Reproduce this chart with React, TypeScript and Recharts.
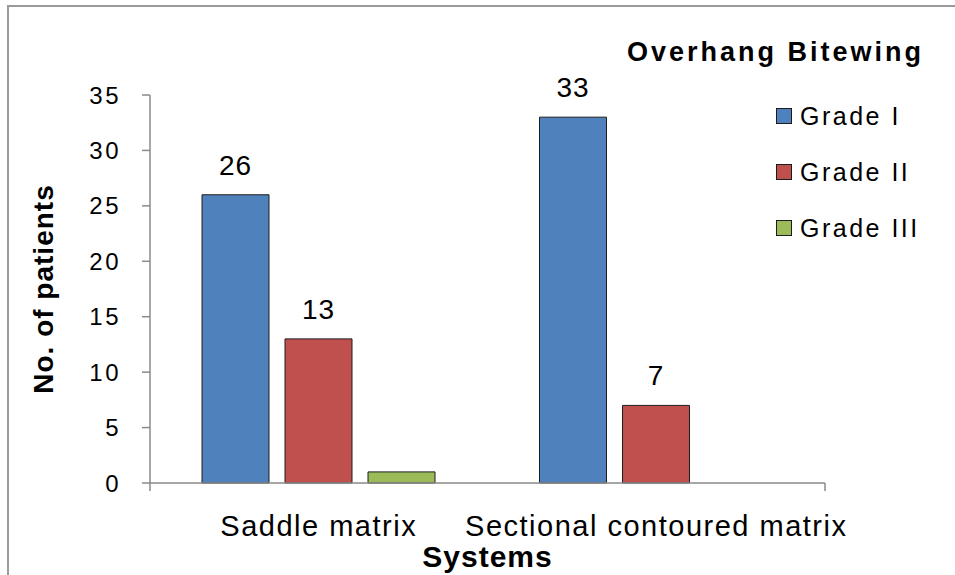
import { Bar, BarChart, Label, LabelList, Legend, XAxis, YAxis } from "recharts";

const SYSTEMS = ["Saddle matrix", "Sectional contoured matrix"];
const GRADE_I = [26, 33];
const GRADE_II = [13, 7];
const GRADE_III = [1, null];
const Y_TICKS = [0, 5, 10, 15, 20, 25, 30, 35];
const BOUNDARY_TICKS = [0, 1, 2];

const FONT = '"Liberation Sans", Arial, sans-serif';
const AXIS_GREY = "#8a8a8a";
const BAR_EDGE = "#1c1c1c";

const data = SYSTEMS.map((name, i) => ({
  name,
  g1: GRADE_I[i],
  g2: GRADE_II[i],
  g3: GRADE_III[i],
}));

const valueLabelStyle = {
  fontFamily: FONT,
  fontSize: 28,
  fill: "#000",
  letterSpacing: 1,
};

// boundary axis only draws its tick lines, no text
const NoTickText = () => <g />;

function LegendBox({ payload }: { payload?: any[] }) {
  return (
    <div style={{ fontFamily: FONT, color: "#000" }}>
      <div
        style={{
          fontWeight: 700,
          fontSize: 27,
          letterSpacing: 3,
          lineHeight: "44px",
          paddingLeft: 7,
          whiteSpace: "nowrap",
        }}
      >
        Overhang Bitewing
      </div>
      <div style={{ marginTop: 14, paddingLeft: 156 }}>
        {(payload ?? []).map((p) => (
          <div
            key={p.value}
            style={{ display: "flex", alignItems: "center", height: 56 }}
          >
            <span
              style={{
                display: "inline-block",
                width: 14,
                height: 14,
                background: p.color,
                border: `1px solid ${BAR_EDGE}`,
                marginRight: 8,
              }}
            />
            <span style={{ fontSize: 25, letterSpacing: 2.5, whiteSpace: "nowrap" }}>
              {p.value}
            </span>
          </div>
        ))}
      </div>
    </div>
  );
}

export default function App() {
  return (
    <div
      style={{
        position: "absolute",
        left: 0,
        top: 0,
        width: 955,
        height: 575,
        overflow: "hidden",
        background: "#fff",
      }}
    >
      <div
        style={{
          position: "absolute",
          left: 7,
          top: 5,
          right: -10,
          bottom: -10,
          borderTop: "2px solid #9a9a9a",
          borderLeft: "2px solid #9a9a9a",
        }}
      />
      <BarChart
        width={955}
        height={575}
        data={data}
        margin={{ top: 95, right: 130, bottom: 0, left: 0 }}
        barCategoryGap={52}
        barGap={16}
      >
        <XAxis
          xAxisId="a"
          type="number"
          domain={[0, 2]}
          allowDataOverflow
          ticks={BOUNDARY_TICKS}
          interval={0}
          height={1}
          tick={NoTickText}
          tickSize={8}
          axisLine={{ stroke: AXIS_GREY, strokeWidth: 1.5 }}
          tickLine={{ stroke: AXIS_GREY, strokeWidth: 1.5 }}
        />
        <XAxis
          xAxisId="b"
          dataKey="name"
          height={91}
          interval={0}
          axisLine={false}
          tickLine={false}
          tickSize={0}
          tickMargin={31}
          tick={{
            fill: "#000",
            fontSize: 29,
            fontFamily: FONT,
            style: { letterSpacing: 1.5 },
          }}
        >
          <Label
            value="Systems"
            position="insideBottom"
            offset={8}
            style={{
              fontFamily: FONT,
              fontSize: 30,
              fontWeight: 700,
              fill: "#000",
              letterSpacing: 1,
            }}
          />
        </XAxis>
        <YAxis
          width={150}
          domain={[0, 35]}
          ticks={Y_TICKS}
          interval={0}
          tickSize={8}
          tickMargin={21}
          axisLine={{ stroke: AXIS_GREY, strokeWidth: 1.5 }}
          tickLine={{ stroke: AXIS_GREY, strokeWidth: 1.5 }}
          tick={{
            fill: "#000",
            fontSize: 24,
            fontFamily: FONT,
            style: { letterSpacing: 2.5 },
          }}
        >
          <Label
            value="No. of patients"
            angle={-90}
            position="center"
            dx={-32}
            style={{
              fontFamily: FONT,
              fontSize: 28,
              fontWeight: 700,
              fill: "#000",
              letterSpacing: 1,
            }}
          />
        </YAxis>
        <Legend
          layout="horizontal"
          verticalAlign="middle"
          align="center"
          wrapperStyle={{ left: 620, top: 30, width: 330 }}
          content={(props: any) => <LegendBox payload={props.payload} />}
        />
        <Bar
          xAxisId="b"
          dataKey="g1"
          name="Grade I"
          fill="#4F81BD"
          stroke={BAR_EDGE}
          strokeWidth={1}
          isAnimationActive={false}
        >
          <LabelList dataKey="g1" position="top" offset={20} style={valueLabelStyle} />
        </Bar>
        <Bar
          xAxisId="b"
          dataKey="g2"
          name="Grade II"
          fill="#C0504D"
          stroke={BAR_EDGE}
          strokeWidth={1}
          isAnimationActive={false}
        >
          <LabelList dataKey="g2" position="top" offset={20} style={valueLabelStyle} />
        </Bar>
        <Bar
          xAxisId="b"
          dataKey="g3"
          name="Grade III"
          fill="#9BBB59"
          stroke={BAR_EDGE}
          strokeWidth={1}
          isAnimationActive={false}
        />
      </BarChart>
    </div>
  );
}
